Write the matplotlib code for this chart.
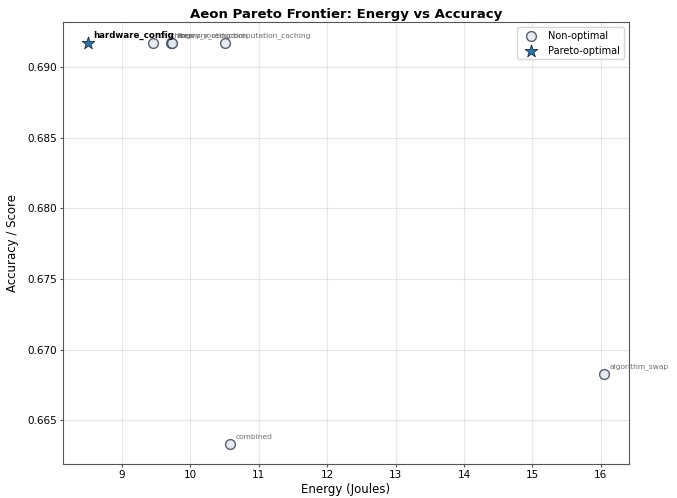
import matplotlib

matplotlib.use("Agg")
import matplotlib.pyplot as plt

names = ["batching", "library_routing", "memory_reduction", "computation_caching",
         "combined", "algorithm_swap"]
energy = [9.46, 9.72, 9.73, 10.51, 10.58, 16.04]
accuracy = [0.6917, 0.6917, 0.6917, 0.6917, 0.6633, 0.6683]

pareto_names = ["hardware_config"]
pareto_energy = [8.50]
pareto_accuracy = [0.6917]

fig, ax = plt.subplots(figsize=(6.77, 4.98), dpi=100)
ax.scatter(energy, accuracy, s=50, facecolor="#e3e8ee", edgecolor="#3a4656",
           linewidth=1.0, alpha=0.85, label="Non-optimal", zorder=3)
ax.scatter(pareto_energy, pareto_accuracy, s=90, marker="*", color="#1f77b4",
           edgecolor="#1a2b3c", linewidth=0.6, label="Pareto-optimal", zorder=4)

# labels overlap in the source too; keep them all
for n, x, y in zip(names, energy, accuracy):
    ax.annotate(n, (x, y), xytext=(4, 4), textcoords="offset points",
                fontsize=5.4, color="#555555", alpha=0.85)
for n, x, y in zip(pareto_names, pareto_energy, pareto_accuracy):
    ax.annotate(n, (x, y), xytext=(4, 4), textcoords="offset points",
                fontsize=6.2, fontweight="bold")

ax.set_xlim(8.14, 16.41)
ax.set_ylim(0.6619, 0.6932)
ax.set_xlabel("Energy (Joules)", fontsize=8.5, labelpad=2)
ax.set_ylabel("Accuracy / Score", fontsize=8.5, labelpad=6)
ax.set_title("Aeon Pareto Frontier: Energy vs Accuracy", fontsize=9.5,
             fontweight="bold", pad=3)
ax.tick_params(labelsize=7.5, length=2.5, pad=2, color="#555555")
for sp in ax.spines.values():
    sp.set_color("#555555")
ax.grid(True, alpha=0.3)
ax.legend(loc="upper right", fontsize=7)
fig.subplots_adjust(left=0.093, right=0.929, top=0.956, bottom=0.068)
fig.savefig("out.png", dpi=100)
